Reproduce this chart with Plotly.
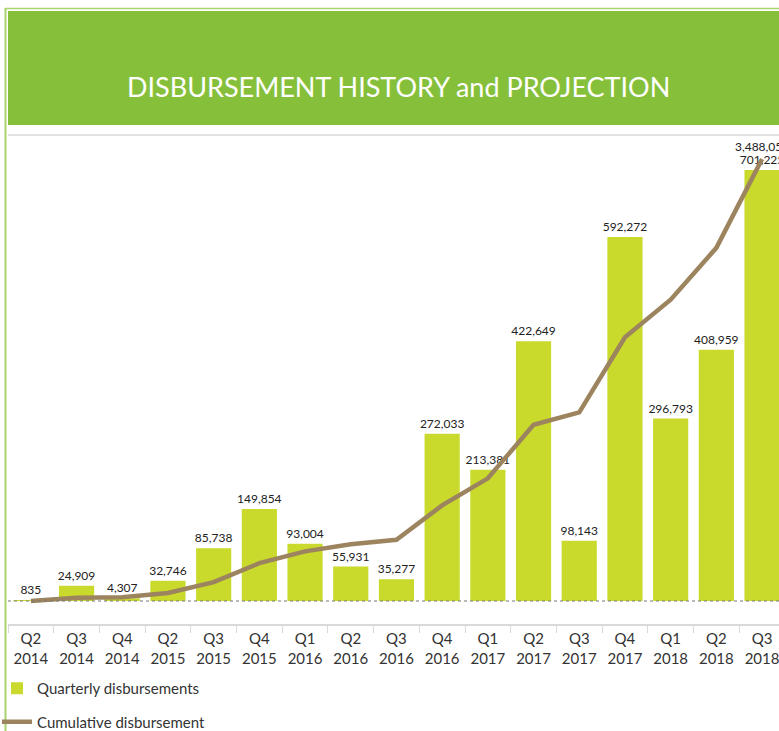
import plotly.graph_objects as go

# data
quarters = ["Q2", "Q3", "Q4", "Q2", "Q3", "Q4", "Q1", "Q2", "Q3",
            "Q4", "Q1", "Q2", "Q3", "Q4", "Q1", "Q2", "Q3"]
years = ["2014", "2014", "2014", "2015", "2015", "2015", "2016", "2016", "2016",
         "2016", "2017", "2017", "2017", "2017", "2018", "2018", "2018"]
quarterly = [835, 24909, 4307, 32746, 85738, 149854, 93004, 55931, 35277,
             272033, 213381, 422649, 98143, 592272, 296793, 408959, 701225]
cumulative = [835, 25744, 30051, 62797, 148535, 298389, 391393, 447324, 482601,
              754634, 968015, 1390664, 1488807, 2081079, 2377872, 2786831, 3488056]

labels = [f"{q}<br>{y}" for q, y in zip(quarters, years)]

W, H = 779, 731
L, R, T, B = 8, 779, 140, 624


def px_x(x):
    return (x - L) / (R - L)


def px_y(y):
    return (B - y) / (B - T)


BAR = "#C9DA2C"
LINE = "#9C845F"
HEADER = "#86C03B"
BORDER = "#A8D46C"
FONT = "Lato, 'Open Sans', sans-serif"

fig = go.Figure()

fig.add_trace(
    go.Bar(
        x=labels,
        y=quarterly,
        name="Quarterly disbursements",
        marker=dict(color=BAR, line=dict(width=0)),
        text=[f"{v:,}" for v in quarterly],
        textposition="outside",
        constraintext="none",
        textfont=dict(size=12, color="#222222", family=FONT),
        cliponaxis=False,
        legendgroup="a",
    )
)

fig.add_trace(
    go.Scatter(
        x=labels,
        y=cumulative,
        name="Cumulative disbursement",
        mode="lines",
        line=dict(color=LINE, width=4.5),
        yaxis="y2",
        cliponaxis=False,
        legendgroup="b",
    )
)

# header band, borders, separator line
shapes = [
    dict(type="line", xref="paper", yref="paper", x0=px_x(5.5), x1=px_x(5.5),
         y0=px_y(8), y1=px_y(731), line=dict(color=BORDER, width=2)),
    dict(type="line", xref="paper", yref="paper", x0=px_x(5), x1=px_x(779),
         y0=px_y(8.5), y1=px_y(8.5), line=dict(color=BORDER, width=1.5)),
    dict(type="rect", xref="paper", yref="paper", x0=px_x(8), x1=px_x(779),
         y0=px_y(125), y1=px_y(11), fillcolor=HEADER, line=dict(width=0)),
    dict(type="line", xref="paper", yref="paper", x0=px_x(8), x1=px_x(779),
         y0=px_y(135), y1=px_y(135), line=dict(color="#D9D9D9", width=1.5)),
    # dotted zero line
    dict(type="line", xref="paper", yref="y", x0=0, x1=1, y0=0, y1=0,
         line=dict(color="#777777", width=1, dash="dot")),
]

fig.update_layout(
    width=W,
    height=H,
    margin=dict(l=L, r=W - R, t=T, b=H - B, autoexpand=False),
    paper_bgcolor="white",
    plot_bgcolor="white",
    font=dict(family=FONT, color="#333333"),
    bargap=0.23,
    shapes=shapes,
    annotations=[
        dict(text="DISBURSEMENT HISTORY and PROJECTION", xref="paper", yref="paper",
             x=px_x(398), y=px_y(68), showarrow=False,
             font=dict(size=27, color="white", family=FONT)),
        # label on the last cumulative point only
        dict(text=f"{cumulative[-1]:,}", x=labels[-1], y=cumulative[-1],
             xref="x", yref="y2", showarrow=False, yshift=13,
             font=dict(size=12, color="#222222", family=FONT)),
    ],
    xaxis=dict(
        range=[-0.5, -0.5 + (R - L) / 45.7],
        showline=True, linecolor="#D9D9D9", linewidth=2,
        ticks="outside", tickson="boundaries", ticklen=7, tickcolor="#D9D9D9",
        tickfont=dict(size=15, color="#333333"), tickangle=0, automargin=False,
        showgrid=False, zeroline=False,
    ),
    yaxis=dict(
        range=[-37421, 750040], visible=False, showgrid=False, zeroline=False,
    ),
    yaxis2=dict(
        range=[-181505, 3637975], overlaying="y", visible=False,
        showgrid=False, zeroline=False,
    ),
    showlegend=True,
    legend=dict(
        orientation="v", x=px_x(-3), xanchor="left", y=px_y(672), yanchor="top",
        font=dict(size=15, color="#333333"), tracegroupgap=11,
        bgcolor="rgba(0,0,0,0)",
    ),
)

# page body has a default margin; drop it so the figure sits at the corner
fig.write_html("out.html", config={"displayModeBar": False},
               post_script="document.body.style.margin='0';")
